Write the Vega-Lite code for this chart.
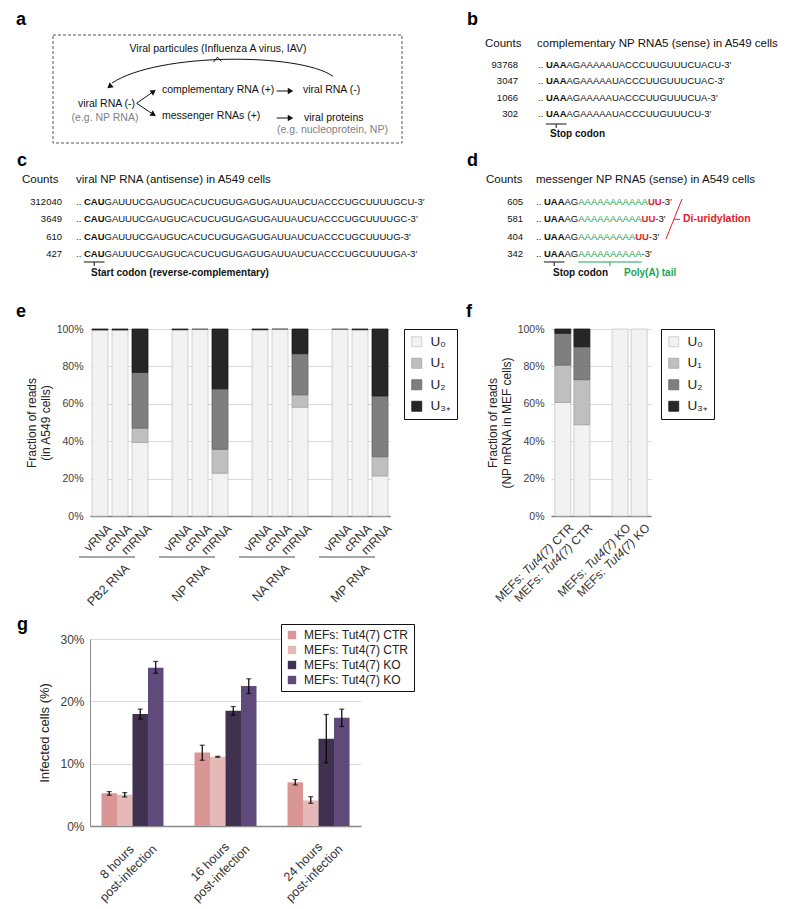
{
  "$schema": "https://vega.github.io/schema/vega-lite/v6.json",
  "background": "white",
  "padding": {"left": 16, "top": 0, "right": 0, "bottom": 0},
  "columns": 1,
  "align": "none",
  "spacing": 6,
  "resolve": {"scale": {"fill": "independent", "stroke": "independent"}, "legend": {"fill": "independent"}},
  "config": {
    "font": "Liberation Sans",
    "view": {"stroke": null},
    "title": {"fontSize": 18, "fontWeight": "bold", "anchor": "start", "frame": "group", "baseline": "alphabetic", "color": "#000"},
    "axis": {"labelColor": "#404040", "titleColor": "#222", "titleFontWeight": "normal", "labelOverlap": false},
    "text": {"color": "#111"}
  },
  "concat": [
    {
      "spacing": 0,
      "vconcat": [
        {
          "spacing": 0,
          "hconcat": [
            {
              "width": 370, "height": 145,
              "data": {"values": [{}]},
              "layer": [
                {"mark": {"type": "text", "text": "a", "fontSize": 18, "fontWeight": "bold", "align": "left", "baseline": "alphabetic", "color": "#000"},
                 "encoding": {"x": {"datum": 0, "type": "quantitative", "scale": {"domain": [7.4, 44.4], "nice": false, "zero": false}, "axis": null}, "y": {"datum": 2.5, "type": "quantitative", "scale": {"domain": [0, 14.5], "reverse": true, "nice": false, "zero": false}, "axis": null}}},
                {"mark": {"type": "rect", "filled": false, "stroke": "#555", "strokeDash": [3, 2], "strokeWidth": 1},
                 "encoding": {"x": {"datum": 3.7, "type": "quantitative", "axis": null}, "x2": {"datum": 38.6}, "y": {"datum": 3.5, "type": "quantitative", "axis": null}, "y2": {"datum": 14.3}}},
                {"mark": {"type": "text", "text": "Viral particules (Influenza A virus, IAV)", "fontSize": 10.5, "align": "center", "baseline": "middle"},
                 "encoding": {"x": {"datum": 20.2, "type": "quantitative", "axis": null}, "y": {"datum": 4.9, "type": "quantitative", "axis": null}}},
                {"mark": {"type": "point", "shape": "M1,0.02C0.7,-0.19 -0.55,-0.19 -0.956,0.08M-0.058,-0.106L-0.022,-0.15L0.013,-0.111", "size": 51076, "filled": false, "stroke": "#111", "strokeWidth": 1, "opacity": 1},
                 "encoding": {"x": {"datum": 20.4, "type": "quantitative", "axis": null}, "y": {"datum": 7.4, "type": "quantitative", "axis": null}}},
                {"mark": {"type": "point", "shape": "triangle-up", "size": 40, "filled": true, "color": "#111", "opacity": 1, "angle": 230},
                 "encoding": {"x": {"datum": 9.35, "type": "quantitative", "axis": null}, "y": {"datum": 8.65, "type": "quantitative", "axis": null}}},
                {"mark": {"type": "text", "text": "viral RNA (-)", "fontSize": 10.5, "align": "center", "baseline": "middle"},
                 "encoding": {"x": {"datum": 9.05, "type": "quantitative", "axis": null}, "y": {"datum": 10.4, "type": "quantitative", "axis": null}}},
                {"mark": {"type": "text", "text": "(e.g. NP RNA)", "fontSize": 10.5, "align": "center", "baseline": "middle", "color": "#808080"},
                 "encoding": {"x": {"datum": 8.9, "type": "quantitative", "axis": null}, "y": {"datum": 11.75, "type": "quantitative", "axis": null}}},
                {"mark": {"type": "rule", "color": "#111", "strokeWidth": 1},
                 "encoding": {"x": {"datum": 12.07, "type": "quantitative", "axis": null}, "y": {"datum": 10.33, "type": "quantitative", "axis": null}, "x2": {"datum": 13.6}, "y2": {"datum": 9.25}}},
                {"mark": {"type": "rule", "color": "#111", "strokeWidth": 1},
                 "encoding": {"x": {"datum": 12.07, "type": "quantitative", "axis": null}, "y": {"datum": 10.33, "type": "quantitative", "axis": null}, "x2": {"datum": 13.6}, "y2": {"datum": 11.35}}},
                {"mark": {"type": "point", "shape": "triangle-up", "size": 40, "filled": true, "color": "#111", "opacity": 1, "angle": 55},
                 "encoding": {"x": {"datum": 13.75, "type": "quantitative", "axis": null}, "y": {"datum": 9.15, "type": "quantitative", "axis": null}}},
                {"mark": {"type": "point", "shape": "triangle-up", "size": 40, "filled": true, "color": "#111", "opacity": 1, "angle": 122},
                 "encoding": {"x": {"datum": 13.75, "type": "quantitative", "axis": null}, "y": {"datum": 11.45, "type": "quantitative", "axis": null}}},
                {"mark": {"type": "text", "text": "complementary RNA (+)", "fontSize": 10.5, "align": "left", "baseline": "middle"},
                 "encoding": {"x": {"datum": 14.6, "type": "quantitative", "axis": null}, "y": {"datum": 9.0, "type": "quantitative", "axis": null}}},
                {"mark": {"type": "text", "text": "messenger RNAs (+)", "fontSize": 10.5, "align": "left", "baseline": "middle"},
                 "encoding": {"x": {"datum": 14.6, "type": "quantitative", "axis": null}, "y": {"datum": 11.6, "type": "quantitative", "axis": null}}},
                {"mark": {"type": "rule", "color": "#111", "strokeWidth": 1},
                 "encoding": {"x": {"datum": 26.07, "type": "quantitative", "axis": null}, "y": {"datum": 9.1, "type": "quantitative", "axis": null}, "x2": {"datum": 27.3}}},
                {"mark": {"type": "point", "shape": "triangle-up", "size": 40, "filled": true, "color": "#111", "opacity": 1, "angle": 90},
                 "encoding": {"x": {"datum": 27.45, "type": "quantitative", "axis": null}, "y": {"datum": 9.1, "type": "quantitative", "axis": null}}},
                {"mark": {"type": "rule", "color": "#111", "strokeWidth": 1},
                 "encoding": {"x": {"datum": 26.07, "type": "quantitative", "axis": null}, "y": {"datum": 11.8, "type": "quantitative", "axis": null}, "x2": {"datum": 27.3}}},
                {"mark": {"type": "point", "shape": "triangle-up", "size": 40, "filled": true, "color": "#111", "opacity": 1, "angle": 90},
                 "encoding": {"x": {"datum": 27.45, "type": "quantitative", "axis": null}, "y": {"datum": 11.8, "type": "quantitative", "axis": null}}},
                {"mark": {"type": "text", "text": "viral RNA (-)", "fontSize": 10.5, "align": "left", "baseline": "middle"},
                 "encoding": {"x": {"datum": 28.7, "type": "quantitative", "axis": null}, "y": {"datum": 9.0, "type": "quantitative", "axis": null}}},
                {"mark": {"type": "text", "text": "viral proteins", "fontSize": 10.5, "align": "left", "baseline": "middle"},
                 "encoding": {"x": {"datum": 28.8, "type": "quantitative", "axis": null}, "y": {"datum": 11.8, "type": "quantitative", "axis": null}}},
                {"mark": {"type": "text", "text": "(e.g. nucleoprotein, NP)", "fontSize": 10.5, "align": "left", "baseline": "middle", "color": "#808080"},
                 "encoding": {"x": {"datum": 26.1, "type": "quantitative", "axis": null}, "y": {"datum": 13.0, "type": "quantitative", "axis": null}}}
              ]
            },
            {
              "width": 340, "height": 145,
              "data": {"values": [
                {"line": 1, "count": "93768", "codon": "UAA", "rest": "AGAAAAAUACCCUUGUUUCUACU-3′"},
                {"line": 2, "count": "3047", "codon": "UAA", "rest": "AGAAAAAUACCCUUGUUUCUAC-3′"},
                {"line": 3, "count": "1066", "codon": "UAA", "rest": "AGAAAAAUACCCUUGUUUCUA-3′"},
                {"line": 4, "count": "302", "codon": "UAA", "rest": "AGAAAAAUACCCUUGUUUCU-3′"}
              ]},
              "layer": [
                {"data": {"values": [{}]}, "mark": {"type": "text", "text": "b", "fontSize": 18, "fontWeight": "bold", "align": "left", "baseline": "alphabetic", "color": "#000"},
                 "encoding": {"x": {"datum": 0.7, "type": "quantitative", "scale": {"domain": [0, 34], "nice": false, "zero": false}, "axis": null}, "y": {"datum": -1.439, "type": "quantitative", "scale": {"domain": [-2.9634, 5.8781], "reverse": true, "nice": false, "zero": false}, "axis": null}}},
                {"data": {"values": [{}]}, "mark": {"type": "text", "text": "Counts", "fontSize": 11.5, "align": "left", "baseline": "middle"},
                 "encoding": {"x": {"datum": 2.5, "type": "quantitative", "axis": null}, "y": {"datum": -0.28, "type": "quantitative", "axis": null}}},
                {"data": {"values": [{}]}, "mark": {"type": "text", "text": "complementary NP RNA5 (sense) in A549 cells", "fontSize": 11.5, "align": "left", "baseline": "middle"},
                 "encoding": {"x": {"datum": 7.7, "type": "quantitative", "axis": null}, "y": {"datum": -0.28, "type": "quantitative", "axis": null}}},
                {"mark": {"type": "text", "fontSize": 9.5, "align": "right", "baseline": "middle"},
                 "encoding": {"x": {"datum": 5.8, "type": "quantitative", "axis": null}, "y": {"field": "line", "type": "quantitative", "axis": null}, "text": {"field": "count", "type": "nominal"}}},
                {"mark": {"type": "text", "text": "..", "fontSize": 9.5, "align": "left", "baseline": "middle"},
                 "encoding": {"x": {"datum": 7.8, "type": "quantitative", "axis": null}, "y": {"field": "line", "type": "quantitative", "axis": null}}},
                {"mark": {"type": "text", "fontSize": 9.5, "fontWeight": "bold", "align": "left", "baseline": "middle", "dx": 7.92},
                 "encoding": {"x": {"datum": 7.8, "type": "quantitative", "axis": null}, "y": {"field": "line", "type": "quantitative", "axis": null}, "text": {"field": "codon", "type": "nominal"}}},
                {"mark": {"type": "text", "fontSize": 9.5, "align": "left", "baseline": "middle", "dx": 28.5},
                 "encoding": {"x": {"datum": 7.8, "type": "quantitative", "axis": null}, "y": {"field": "line", "type": "quantitative", "axis": null}, "text": {"field": "rest", "type": "nominal"}}},
                {"data": {"values": [{}]}, "mark": {"type": "rule", "color": "#111", "strokeWidth": 1},
                 "encoding": {"x": {"datum": 8.59, "type": "quantitative", "axis": null}, "x2": {"datum": 10.65}, "y": {"datum": 4.598, "type": "quantitative", "axis": null}}},
                {"data": {"values": [{}]}, "mark": {"type": "rule", "color": "#111", "strokeWidth": 1},
                 "encoding": {"x": {"datum": 9.62, "type": "quantitative", "axis": null}, "y": {"datum": 4.598, "type": "quantitative", "axis": null}, "y2": {"datum": 4.842}}},
                {"data": {"values": [{}]}, "mark": {"type": "text", "text": "Stop codon", "fontSize": 10, "fontWeight": "bold", "align": "left", "baseline": "middle"},
                 "encoding": {"x": {"datum": 9.0, "type": "quantitative", "axis": null}, "y": {"datum": 5.207, "type": "quantitative", "axis": null}}}
              ]
            }
          ]
        },
        {
          "spacing": 0,
          "hconcat": [
            {
              "width": 370, "height": 152,
              "data": {"values": [
                {"line": 1, "count": "312040", "codon": "CAU", "rest": "GAUUUCGAUGUCACUCUGUGAGUGAUUAUCUACCCUGCUUUUGCU-3′"},
                {"line": 2, "count": "3649", "codon": "CAU", "rest": "GAUUUCGAUGUCACUCUGUGAGUGAUUAUCUACCCUGCUUUUGC-3′"},
                {"line": 3, "count": "610", "codon": "CAU", "rest": "GAUUUCGAUGUCACUCUGUGAGUGAUUAUCUACCCUGCUUUUG-3′"},
                {"line": 4, "count": "427", "codon": "CAU", "rest": "GAUUUCGAUGUCACUCUGUGAGUGAUUAUCUACCCUGCUUUUGA-3′"}
              ]},
              "layer": [
                {"data": {"values": [{}]}, "mark": {"type": "text", "text": "c", "fontSize": 18, "fontWeight": "bold", "align": "left", "baseline": "alphabetic", "color": "#000"},
                 "encoding": {"x": {"datum": 0.1, "type": "quantitative", "scale": {"domain": [7.4, 44.4], "nice": false, "zero": false}, "axis": null}, "y": {"datum": -1.081, "type": "quantitative", "scale": {"domain": [-2.2948, 6.4913], "reverse": true, "nice": false, "zero": false}, "axis": null}}},
                {"data": {"values": [{}]}, "mark": {"type": "text", "text": "Counts", "fontSize": 11.5, "align": "left", "baseline": "middle"},
                 "encoding": {"x": {"datum": 0.6, "type": "quantitative", "axis": null}, "y": {"datum": -0.272, "type": "quantitative", "axis": null}}},
                {"data": {"values": [{}]}, "mark": {"type": "text", "text": "viral NP RNA (antisense) in A549 cells", "fontSize": 11.5, "align": "left", "baseline": "middle"},
                 "encoding": {"x": {"datum": 6.0, "type": "quantitative", "axis": null}, "y": {"datum": -0.272, "type": "quantitative", "axis": null}}},
                {"mark": {"type": "text", "fontSize": 9.5, "align": "right", "baseline": "middle"},
                 "encoding": {"x": {"datum": 4.6, "type": "quantitative", "axis": null}, "y": {"field": "line", "type": "quantitative", "axis": null}, "text": {"field": "count", "type": "nominal"}}},
                {"mark": {"type": "text", "text": "..", "fontSize": 9.5, "align": "left", "baseline": "middle"},
                 "encoding": {"x": {"datum": 6.0, "type": "quantitative", "axis": null}, "y": {"field": "line", "type": "quantitative", "axis": null}}},
                {"mark": {"type": "text", "fontSize": 9.5, "fontWeight": "bold", "align": "left", "baseline": "middle", "dx": 7.92},
                 "encoding": {"x": {"datum": 6.0, "type": "quantitative", "axis": null}, "y": {"field": "line", "type": "quantitative", "axis": null}, "text": {"field": "codon", "type": "nominal"}}},
                {"mark": {"type": "text", "fontSize": 9.5, "align": "left", "baseline": "middle", "dx": 28.5},
                 "encoding": {"x": {"datum": 6.0, "type": "quantitative", "axis": null}, "y": {"field": "line", "type": "quantitative", "axis": null}, "text": {"field": "rest", "type": "nominal"}}},
                {"data": {"values": [{}]}, "mark": {"type": "rule", "color": "#111", "strokeWidth": 1},
                 "encoding": {"x": {"datum": 6.79, "type": "quantitative", "axis": null}, "x2": {"datum": 8.85}, "y": {"datum": 4.468, "type": "quantitative", "axis": null}}},
                {"data": {"values": [{}]}, "mark": {"type": "rule", "color": "#111", "strokeWidth": 1},
                 "encoding": {"x": {"datum": 7.82, "type": "quantitative", "axis": null}, "y": {"datum": 4.468, "type": "quantitative", "axis": null}, "y2": {"datum": 4.7}}},
                {"data": {"values": [{}]}, "mark": {"type": "text", "text": "Start codon (reverse-complementary)", "fontSize": 10, "fontWeight": "bold", "align": "left", "baseline": "middle"},
                 "encoding": {"x": {"datum": 7.5, "type": "quantitative", "axis": null}, "y": {"datum": 5.104, "type": "quantitative", "axis": null}}}
              ]
            },
            {
              "width": 340, "height": 152,
              "data": {"values": [
                {"line": 1, "count": "605", "polyA": "AAAAAAAAAAA", "uu": "UU"},
                {"line": 2, "count": "581", "polyA": "AAAAAAAAAA", "uu": "UU"},
                {"line": 3, "count": "404", "polyA": "AAAAAAAAA", "uu": "UU"},
                {"line": 4, "count": "342", "polyA": "AAAAAAAAAA", "uu": ""}
              ]},
              "layer": [
                {"data": {"values": [{}]}, "mark": {"type": "text", "text": "d", "fontSize": 18, "fontWeight": "bold", "align": "left", "baseline": "alphabetic", "color": "#000"},
                 "encoding": {"x": {"datum": 0.7, "type": "quantitative", "scale": {"domain": [0, 34], "nice": false, "zero": false}, "axis": null}, "y": {"datum": -1.081, "type": "quantitative", "scale": {"domain": [-2.2948, 6.4913], "reverse": true, "nice": false, "zero": false}, "axis": null}}},
                {"data": {"values": [{}]}, "mark": {"type": "text", "text": "Counts", "fontSize": 11.5, "align": "left", "baseline": "middle"},
                 "encoding": {"x": {"datum": 2.6, "type": "quantitative", "axis": null}, "y": {"datum": -0.272, "type": "quantitative", "axis": null}}},
                {"data": {"values": [{}]}, "mark": {"type": "text", "text": "messenger NP RNA5 (sense) in A549 cells", "fontSize": 11.5, "align": "left", "baseline": "middle"},
                 "encoding": {"x": {"datum": 7.6, "type": "quantitative", "axis": null}, "y": {"datum": -0.272, "type": "quantitative", "axis": null}}},
                {"mark": {"type": "text", "fontSize": 9.5, "align": "right", "baseline": "middle"},
                 "encoding": {"x": {"datum": 6.3, "type": "quantitative", "axis": null}, "y": {"field": "line", "type": "quantitative", "axis": null}, "text": {"field": "count", "type": "nominal"}}},
                {"mark": {"type": "text", "text": "..", "fontSize": 9.5, "align": "left", "baseline": "middle"},
                 "encoding": {"x": {"datum": 7.6, "type": "quantitative", "axis": null}, "y": {"field": "line", "type": "quantitative", "axis": null}}},
                {"mark": {"type": "text", "text": "UAA", "fontSize": 9.5, "fontWeight": "bold", "align": "left", "baseline": "middle", "dx": 7.92},
                 "encoding": {"x": {"datum": 7.6, "type": "quantitative", "axis": null}, "y": {"field": "line", "type": "quantitative", "axis": null}}},
                {"mark": {"type": "text", "text": "AG", "fontSize": 9.5, "align": "left", "baseline": "middle", "dx": 28.5},
                 "encoding": {"x": {"datum": 7.6, "type": "quantitative", "axis": null}, "y": {"field": "line", "type": "quantitative", "axis": null}}},
                {"mark": {"type": "text", "fontSize": 9.5, "align": "left", "baseline": "middle", "dx": 42.23, "color": "#1aa552"},
                 "encoding": {"x": {"datum": 7.6, "type": "quantitative", "axis": null}, "y": {"field": "line", "type": "quantitative", "axis": null}, "text": {"field": "polyA", "type": "nominal"}}},
                {"transform": [{"filter": "datum.line === 1"}],
                 "mark": {"type": "text", "fontSize": 9.5, "fontWeight": "bold", "align": "left", "baseline": "middle", "dx": 111.93, "color": "#e3202b"},
                 "encoding": {"x": {"datum": 7.6, "type": "quantitative", "axis": null}, "y": {"field": "line", "type": "quantitative", "axis": null}, "text": {"field": "uu", "type": "nominal"}}},
                {"transform": [{"filter": "datum.line === 2"}],
                 "mark": {"type": "text", "fontSize": 9.5, "fontWeight": "bold", "align": "left", "baseline": "middle", "dx": 105.6, "color": "#e3202b"},
                 "encoding": {"x": {"datum": 7.6, "type": "quantitative", "axis": null}, "y": {"field": "line", "type": "quantitative", "axis": null}, "text": {"field": "uu", "type": "nominal"}}},
                {"transform": [{"filter": "datum.line === 3"}],
                 "mark": {"type": "text", "fontSize": 9.5, "fontWeight": "bold", "align": "left", "baseline": "middle", "dx": 99.26, "color": "#e3202b"},
                 "encoding": {"x": {"datum": 7.6, "type": "quantitative", "axis": null}, "y": {"field": "line", "type": "quantitative", "axis": null}, "text": {"field": "uu", "type": "nominal"}}},
                {"transform": [{"filter": "datum.line === 1"}],
                 "mark": {"type": "text", "text": "-3′", "fontSize": 9.5, "align": "left", "baseline": "middle", "dx": 125.65},
                 "encoding": {"x": {"datum": 7.6, "type": "quantitative", "axis": null}, "y": {"field": "line", "type": "quantitative", "axis": null}}},
                {"transform": [{"filter": "datum.line === 2"}],
                 "mark": {"type": "text", "text": "-3′", "fontSize": 9.5, "align": "left", "baseline": "middle", "dx": 119.32},
                 "encoding": {"x": {"datum": 7.6, "type": "quantitative", "axis": null}, "y": {"field": "line", "type": "quantitative", "axis": null}}},
                {"transform": [{"filter": "datum.line === 3"}],
                 "mark": {"type": "text", "text": "-3′", "fontSize": 9.5, "align": "left", "baseline": "middle", "dx": 112.98},
                 "encoding": {"x": {"datum": 7.6, "type": "quantitative", "axis": null}, "y": {"field": "line", "type": "quantitative", "axis": null}}},
                {"transform": [{"filter": "datum.line === 4"}],
                 "mark": {"type": "text", "text": "-3′", "fontSize": 9.5, "align": "left", "baseline": "middle", "dx": 105.6},
                 "encoding": {"x": {"datum": 7.6, "type": "quantitative", "axis": null}, "y": {"field": "line", "type": "quantitative", "axis": null}}},
                {"data": {"values": [{}]}, "mark": {"type": "rule", "color": "#111", "strokeWidth": 1},
                 "encoding": {"x": {"datum": 8.39, "type": "quantitative", "axis": null}, "x2": {"datum": 10.45}, "y": {"datum": 4.468, "type": "quantitative", "axis": null}}},
                {"data": {"values": [{}]}, "mark": {"type": "rule", "color": "#111", "strokeWidth": 1},
                 "encoding": {"x": {"datum": 9.42, "type": "quantitative", "axis": null}, "y": {"datum": 4.468, "type": "quantitative", "axis": null}, "y2": {"datum": 4.7}}},
                {"data": {"values": [{}]}, "mark": {"type": "rule", "color": "#1aa552", "strokeWidth": 1},
                 "encoding": {"x": {"datum": 11.82, "type": "quantitative", "axis": null}, "x2": {"datum": 18.16}, "y": {"datum": 4.468, "type": "quantitative", "axis": null}}},
                {"data": {"values": [{}]}, "mark": {"type": "rule", "color": "#1aa552", "strokeWidth": 1},
                 "encoding": {"x": {"datum": 14.99, "type": "quantitative", "axis": null}, "y": {"datum": 4.468, "type": "quantitative", "axis": null}, "y2": {"datum": 4.7}}},
                {"data": {"values": [{}]}, "mark": {"type": "text", "text": "Stop codon", "fontSize": 10, "fontWeight": "bold", "align": "left", "baseline": "middle"},
                 "encoding": {"x": {"datum": 9.3, "type": "quantitative", "axis": null}, "y": {"datum": 5.104, "type": "quantitative", "axis": null}}},
                {"data": {"values": [{}]}, "mark": {"type": "text", "text": "Poly(A) tail", "fontSize": 10, "fontWeight": "bold", "align": "left", "baseline": "middle", "color": "#1aa552"},
                 "encoding": {"x": {"datum": 16.4, "type": "quantitative", "axis": null}, "y": {"datum": 5.104, "type": "quantitative", "axis": null}}},
                {"data": {"values": [{}]}, "mark": {"type": "rule", "color": "#e3202b", "strokeWidth": 1},
                 "encoding": {"x": {"datum": 22.2, "type": "quantitative", "axis": null}, "y": {"datum": 0.827, "type": "quantitative", "axis": null}, "x2": {"datum": 20.6}, "y2": {"datum": 3.139}}},
                {"data": {"values": [{}]}, "mark": {"type": "rule", "color": "#e3202b", "strokeWidth": 1},
                 "encoding": {"x": {"datum": 21.4, "type": "quantitative", "axis": null}, "x2": {"datum": 22.0}, "y": {"datum": 2.0, "type": "quantitative", "axis": null}}},
                {"data": {"values": [{}]}, "mark": {"type": "text", "text": "Di-uridylation", "fontSize": 10.5, "fontWeight": "bold", "align": "left", "baseline": "middle", "color": "#e3202b"},
                 "encoding": {"x": {"datum": 22.3, "type": "quantitative", "axis": null}, "y": {"datum": 2.0, "type": "quantitative", "axis": null}}}
              ]
            }
          ]
        }
      ]
    },
    {
      "spacing": 8,
      "resolve": {"scale": {"fill": "independent", "stroke": "independent"}, "legend": {"fill": "independent"}},
      "hconcat": [
        {
          "width": 300, "height": 187,
          "title": {"text": "e", "dx": -74, "offset": 3},
          "data": {"values": [
            {"rna": "PB2 RNA", "type": "vRNA", "level": "U₀", "value": 99.5},
            {"rna": "PB2 RNA", "type": "vRNA", "level": "U₃₊", "value": 0.5},
            {"rna": "PB2 RNA", "type": "cRNA", "level": "U₀", "value": 99.5},
            {"rna": "PB2 RNA", "type": "cRNA", "level": "U₃₊", "value": 0.5},
            {"rna": "PB2 RNA", "type": "mRNA", "level": "U₀", "value": 39.3},
            {"rna": "PB2 RNA", "type": "mRNA", "level": "U₁", "value": 7.7},
            {"rna": "PB2 RNA", "type": "mRNA", "level": "U₂", "value": 29.8},
            {"rna": "PB2 RNA", "type": "mRNA", "level": "U₃₊", "value": 23.2},
            {"rna": "NP RNA", "type": "vRNA", "level": "U₀", "value": 99.6},
            {"rna": "NP RNA", "type": "vRNA", "level": "U₃₊", "value": 0.4},
            {"rna": "NP RNA", "type": "cRNA", "level": "U₀", "value": 99.8},
            {"rna": "NP RNA", "type": "cRNA", "level": "U₂", "value": 0.2},
            {"rna": "NP RNA", "type": "mRNA", "level": "U₀", "value": 22.9},
            {"rna": "NP RNA", "type": "mRNA", "level": "U₁", "value": 12.8},
            {"rna": "NP RNA", "type": "mRNA", "level": "U₂", "value": 32.3},
            {"rna": "NP RNA", "type": "mRNA", "level": "U₃₊", "value": 32.0},
            {"rna": "NA RNA", "type": "vRNA", "level": "U₀", "value": 99.6},
            {"rna": "NA RNA", "type": "vRNA", "level": "U₃₊", "value": 0.4},
            {"rna": "NA RNA", "type": "cRNA", "level": "U₀", "value": 99.9},
            {"rna": "NA RNA", "type": "cRNA", "level": "U₂", "value": 0.1},
            {"rna": "NA RNA", "type": "mRNA", "level": "U₀", "value": 58.2},
            {"rna": "NA RNA", "type": "mRNA", "level": "U₁", "value": 6.6},
            {"rna": "NA RNA", "type": "mRNA", "level": "U₂", "value": 22.0},
            {"rna": "NA RNA", "type": "mRNA", "level": "U₃₊", "value": 13.2},
            {"rna": "MP RNA", "type": "vRNA", "level": "U₀", "value": 99.8},
            {"rna": "MP RNA", "type": "vRNA", "level": "U₂", "value": 0.2},
            {"rna": "MP RNA", "type": "cRNA", "level": "U₀", "value": 99.6},
            {"rna": "MP RNA", "type": "cRNA", "level": "U₃₊", "value": 0.4},
            {"rna": "MP RNA", "type": "mRNA", "level": "U₀", "value": 21.4},
            {"rna": "MP RNA", "type": "mRNA", "level": "U₁", "value": 10.3},
            {"rna": "MP RNA", "type": "mRNA", "level": "U₂", "value": 32.5},
            {"rna": "MP RNA", "type": "mRNA", "level": "U₃₊", "value": 35.8}
          ]},
          "transform": [{"calculate": "datum.rna + ' ' + datum.type", "as": "key"}],
          "layer": [
            {
              "mark": {"type": "bar", "strokeWidth": 0.8},
              "encoding": {
                "x": {"field": "key", "type": "nominal",
                      "scale": {"domain": ["PB2 RNA vRNA", "PB2 RNA cRNA", "PB2 RNA mRNA", "g1", "NP RNA vRNA", "NP RNA cRNA", "NP RNA mRNA", "g2", "NA RNA vRNA", "NA RNA cRNA", "NA RNA mRNA", "g3", "MP RNA vRNA", "MP RNA cRNA", "MP RNA mRNA"], "paddingInner": 0.2, "paddingOuter": 0.1},
                      "axis": {"title": null, "ticks": false, "labelAngle": -45, "labelAlign": "right", "labelBaseline": "middle", "labelOffset": 9.5, "labelPadding": 10,
                               "labelFontSize": 12.5, "labelColor": "#333", "labelOverlap": false, "labelExpr": "length(datum.label) < 4 ? '' : split(datum.label, ' ')[2]",
                               "domainColor": "#7f7f7f", "domainWidth": 1.5}},
                "y": {"field": "value", "type": "quantitative", "stack": "zero", "scale": {"domain": [0, 100]},
                      "axis": {"title": ["Fraction of reads", "(in A549 cells)"], "titleFontSize": 12, "titlePadding": 4, "titleLineHeight": 14,
                               "values": [0, 10, 20, 30, 40, 50, 60, 70, 80, 90, 100], "tickCount": 10, "labelExpr": "datum.value % 20 === 0 ? datum.value + '%' : ' '", "labelOverlap": false,
                               "labelFontSize": 10.5, "labelPadding": 7, "ticks": false, "domain": false, "grid": true, "gridColor": "#d9d9d9"}},
                "fill": {"field": "level", "type": "nominal", "scale": {"domain": ["U₀", "U₁", "U₂", "U₃₊"], "range": ["#f2f2f2", "#bfbfbf", "#7f7f7f", "#262626"]},
                         "legend": {"title": null, "offset": 14, "padding": 6, "strokeColor": "#111", "fillColor": "#fff", "symbolType": "square", "symbolSize": 100,
                                    "symbolStrokeColor": "#aaa", "symbolStrokeWidth": 0.8, "labelFontSize": 13.5, "labelColor": "#222", "rowPadding": 6.5, "labelOffset": 7}},
                "stroke": {"field": "level", "type": "nominal", "scale": {"domain": ["U₀", "U₁", "U₂", "U₃₊"], "range": ["#c6c6c6", "#a3a3a3", "#666666", "#1a1a1a"]}, "legend": null},
                "order": {"field": "level", "type": "nominal", "sort": "ascending"}
              }
            },
            {
              "transform": [{"filter": "datum.level === 'U₀' && datum.type === 'cRNA'"}],
              "mark": {"type": "text", "angle": 315, "align": "right", "baseline": "middle", "fontSize": 12.5, "dx": -30.4, "dy": 40.6, "color": "#333"},
              "encoding": {
                "x": {"field": "key", "type": "nominal"},
                "y": {"datum": 0, "type": "quantitative"},
                "text": {"field": "rna", "type": "nominal"}
              }
            },
            {
              "transform": [{"filter": "datum.level === 'U₀' && datum.type === 'vRNA'"}, {"calculate": "datum.rna + ' vRNA'", "as": "k1"}, {"calculate": "datum.rna + ' mRNA'", "as": "k2"}],
              "mark": {"type": "rule", "color": "#a6a6a6", "strokeWidth": 2, "xOffset": -13, "x2Offset": -13},
              "encoding": {
                "x": {"field": "k1", "type": "nominal", "bandPosition": 0},
                "x2": {"field": "k2", "bandPosition": 1},
                "y": {"datum": -21.9, "type": "quantitative"}
              }
            }
          ]
        },
        {
          "width": 100, "height": 187,
          "title": {"text": "f", "dx": -85, "offset": 3},
          "data": {"values": [
            {"grp": "CTR", "rep": "1", "level": "U₀", "value": 60.7},
            {"grp": "CTR", "rep": "1", "level": "U₁", "value": 20.0},
            {"grp": "CTR", "rep": "1", "level": "U₂", "value": 17.0},
            {"grp": "CTR", "rep": "1", "level": "U₃₊", "value": 2.3},
            {"grp": "CTR", "rep": "2", "level": "U₀", "value": 48.8},
            {"grp": "CTR", "rep": "2", "level": "U₁", "value": 24.1},
            {"grp": "CTR", "rep": "2", "level": "U₂", "value": 17.6},
            {"grp": "CTR", "rep": "2", "level": "U₃₊", "value": 9.5},
            {"grp": "KO", "rep": "1", "level": "U₀", "value": 100},
            {"grp": "KO", "rep": "2", "level": "U₀", "value": 100}
          ]},
          "transform": [{"calculate": "datum.grp + ' ' + datum.rep", "as": "key"}],
          "layer": [
            {
              "mark": {"type": "bar", "strokeWidth": 0.8},
              "encoding": {
                "x": {"field": "key", "type": "nominal", "scale": {"domain": ["CTR 1", "CTR 2", "gap", "KO 1", "KO 2"], "paddingInner": 0.16, "paddingOuter": 0.2},
                      "axis": {"title": null, "labels": false, "ticks": false, "domainColor": "#7f7f7f", "domainWidth": 1.5}},
                "y": {"field": "value", "type": "quantitative", "stack": "zero", "scale": {"domain": [0, 100]},
                      "axis": {"title": ["Fraction of reads", "(NP mRNA in MEF cells)"], "titleFontSize": 12, "titlePadding": 4, "titleLineHeight": 14,
                               "values": [0, 10, 20, 30, 40, 50, 60, 70, 80, 90, 100], "tickCount": 10, "labelExpr": "datum.value % 20 === 0 ? datum.value + '%' : ' '", "labelOverlap": false,
                               "labelFontSize": 10.5, "labelPadding": 7, "ticks": false, "domain": false, "grid": true, "gridColor": "#d9d9d9"}},
                "fill": {"field": "level", "type": "nominal", "scale": {"domain": ["U₀", "U₁", "U₂", "U₃₊"], "range": ["#f2f2f2", "#bfbfbf", "#7f7f7f", "#262626"]},
                         "legend": {"title": null, "offset": 10, "padding": 6, "strokeColor": "#111", "fillColor": "#fff", "symbolType": "square", "symbolSize": 100,
                                    "symbolStrokeColor": "#aaa", "symbolStrokeWidth": 0.8, "labelFontSize": 13.5, "labelColor": "#222", "rowPadding": 6.5, "labelOffset": 7}},
                "stroke": {"field": "level", "type": "nominal", "scale": {"domain": ["U₀", "U₁", "U₂", "U₃₊"], "range": ["#c6c6c6", "#a3a3a3", "#666666", "#1a1a1a"]}, "legend": null},
                "order": {"field": "level", "type": "nominal", "sort": "ascending"}
              }
            },
            {
              "transform": [{"filter": "datum.level === 'U₀'"}],
              "mark": {"type": "text", "angle": 315, "align": "right", "baseline": "middle", "fontSize": 12, "dx": -1, "dy": 13, "color": "#333"},
              "encoding": {"x": {"field": "key", "type": "nominal"}, "y": {"datum": 0, "type": "quantitative"}, "text": {"field": "grp", "type": "nominal"}}
            },
            {
              "transform": [{"filter": "datum.level === 'U₀' && datum.grp === 'CTR'"}],
              "mark": {"type": "text", "text": "Tut4(7)", "fontStyle": "italic", "angle": 315, "align": "right", "baseline": "middle", "fontSize": 12, "dx": -29, "dy": 13, "color": "#333"},
              "encoding": {"x": {"field": "key", "type": "nominal"}, "y": {"datum": 0, "type": "quantitative"}}
            },
            {
              "transform": [{"filter": "datum.level === 'U₀' && datum.grp === 'KO'"}],
              "mark": {"type": "text", "text": "Tut4(7)", "fontStyle": "italic", "angle": 315, "align": "right", "baseline": "middle", "fontSize": 12, "dx": -21.7, "dy": 13, "color": "#333"},
              "encoding": {"x": {"field": "key", "type": "nominal"}, "y": {"datum": 0, "type": "quantitative"}}
            },
            {
              "transform": [{"filter": "datum.level === 'U₀' && datum.grp === 'CTR'"}],
              "mark": {"type": "text", "text": "MEFs:", "angle": 315, "align": "right", "baseline": "middle", "fontSize": 12, "dx": -71, "dy": 13, "color": "#333"},
              "encoding": {"x": {"field": "key", "type": "nominal"}, "y": {"datum": 0, "type": "quantitative"}}
            },
            {
              "transform": [{"filter": "datum.level === 'U₀' && datum.grp === 'KO'"}],
              "mark": {"type": "text", "text": "MEFs:", "angle": 315, "align": "right", "baseline": "middle", "fontSize": 12, "dx": -63.7, "dy": 13, "color": "#333"},
              "encoding": {"x": {"field": "key", "type": "nominal"}, "y": {"datum": 0, "type": "quantitative"}}
            }
          ]
        }
      ]
    },
    {
      "width": 271, "height": 187,
      "title": {"text": "g", "dx": -73, "offset": 10, "dy": 20},
      "data": {"values": [
        {"time": "8 hours", "series": "CTR1", "v": 5.25, "lo": 4.93, "hi": 5.52},
        {"time": "8 hours", "series": "CTR2", "v": 5.0, "lo": 4.66, "hi": 5.36},
        {"time": "8 hours", "series": "KO1", "v": 17.95, "lo": 17.14, "hi": 18.75},
        {"time": "8 hours", "series": "KO2", "v": 25.4, "lo": 24.5, "hi": 26.4},
        {"time": "16 hours", "series": "CTR1", "v": 11.8, "lo": 10.55, "hi": 12.96},
        {"time": "16 hours", "series": "CTR2", "v": 11.1, "lo": 11.03, "hi": 11.19},
        {"time": "16 hours", "series": "KO1", "v": 18.5, "lo": 17.78, "hi": 19.17},
        {"time": "16 hours", "series": "KO2", "v": 22.45, "lo": 21.26, "hi": 23.62},
        {"time": "24 hours", "series": "CTR1", "v": 7.0, "lo": 6.59, "hi": 7.45},
        {"time": "24 hours", "series": "CTR2", "v": 4.1, "lo": 3.64, "hi": 4.71},
        {"time": "24 hours", "series": "KO1", "v": 14.0, "lo": 10.12, "hi": 17.89},
        {"time": "24 hours", "series": "KO2", "v": 17.35, "lo": 15.96, "hi": 18.75}
      ]},
      "transform": [{"calculate": "datum.time + ' ' + datum.series", "as": "key"}],
      "layer": [
        {
          "mark": {"type": "bar"},
          "encoding": {
            "x": {"field": "key", "type": "nominal",
                  "scale": {"domain": ["8 hours CTR1", "8 hours CTR2", "8 hours KO1", "8 hours KO2", "s1", "s2", "16 hours CTR1", "16 hours CTR2", "16 hours KO1", "16 hours KO2", "s3", "s4", "24 hours CTR1", "24 hours CTR2", "24 hours KO1", "24 hours KO2"], "paddingInner": 0, "paddingOuter": 0.74},
                  "axis": {"title": null, "labels": false, "ticks": false, "domainColor": "#8c8c8c", "domainWidth": 1.5}},
            "y": {"field": "v", "type": "quantitative", "scale": {"domain": [0, 30]},
                  "axis": {"title": "Infected cells (%)", "titleFontSize": 13, "titlePadding": 8, "values": [0, 5, 10, 15, 20, 25, 30], "tickCount": 6,
                           "labelExpr": "datum.value % 10 === 0 ? datum.value + '%' : ' '", "labelOverlap": false, "labelFontSize": 12, "labelPadding": 6,
                           "ticks": false, "domainColor": "#8c8c8c", "grid": true, "gridColor": "#d9d9d9"}},
            "fill": {"field": "series", "type": "nominal", "scale": {"domain": ["CTR1", "CTR2", "KO1", "KO2"], "range": ["#d99694", "#e6b9b8", "#403151", "#604a7b"]},
                     "legend": {"title": null, "orient": "none", "legendX": 191, "legendY": -15, "padding": 5, "strokeColor": "#111", "fillColor": "#fff",
                                "symbolType": "square", "symbolSize": 70, "labelFontSize": 12, "labelColor": "#222", "rowPadding": 3, "labelOffset": 6,
                                "labelExpr": "indexof(datum.label, 'CTR') === 0 ? 'MEFs: Tut4(7) CTR' : 'MEFs: Tut4(7) KO'"}}
          }
        },
        {
          "mark": {"type": "rule", "color": "#000", "strokeWidth": 1.2},
          "encoding": {"x": {"field": "key", "type": "nominal"}, "y": {"field": "lo", "type": "quantitative"}, "y2": {"field": "hi"}}
        },
        {
          "mark": {"type": "tick", "color": "#000", "thickness": 1.2, "size": 5},
          "encoding": {"x": {"field": "key", "type": "nominal"}, "y": {"field": "lo", "type": "quantitative"}}
        },
        {
          "mark": {"type": "tick", "color": "#000", "thickness": 1.2, "size": 5},
          "encoding": {"x": {"field": "key", "type": "nominal"}, "y": {"field": "hi", "type": "quantitative"}}
        },
        {
          "transform": [{"filter": "datum.series === 'CTR2'"}, {"calculate": "[datum.time, 'post-infection']", "as": "lab"}],
          "mark": {"type": "text", "angle": 315, "align": "center", "baseline": "middle", "fontSize": 12.5, "lineHeight": 16, "dx": -36.4, "dy": 14.5, "color": "#333"},
          "encoding": {"x": {"field": "key", "type": "nominal", "bandPosition": 1}, "y": {"datum": 0, "type": "quantitative"}, "text": {"field": "lab", "type": "nominal"}}
        }
      ]
    }
  ]
}
